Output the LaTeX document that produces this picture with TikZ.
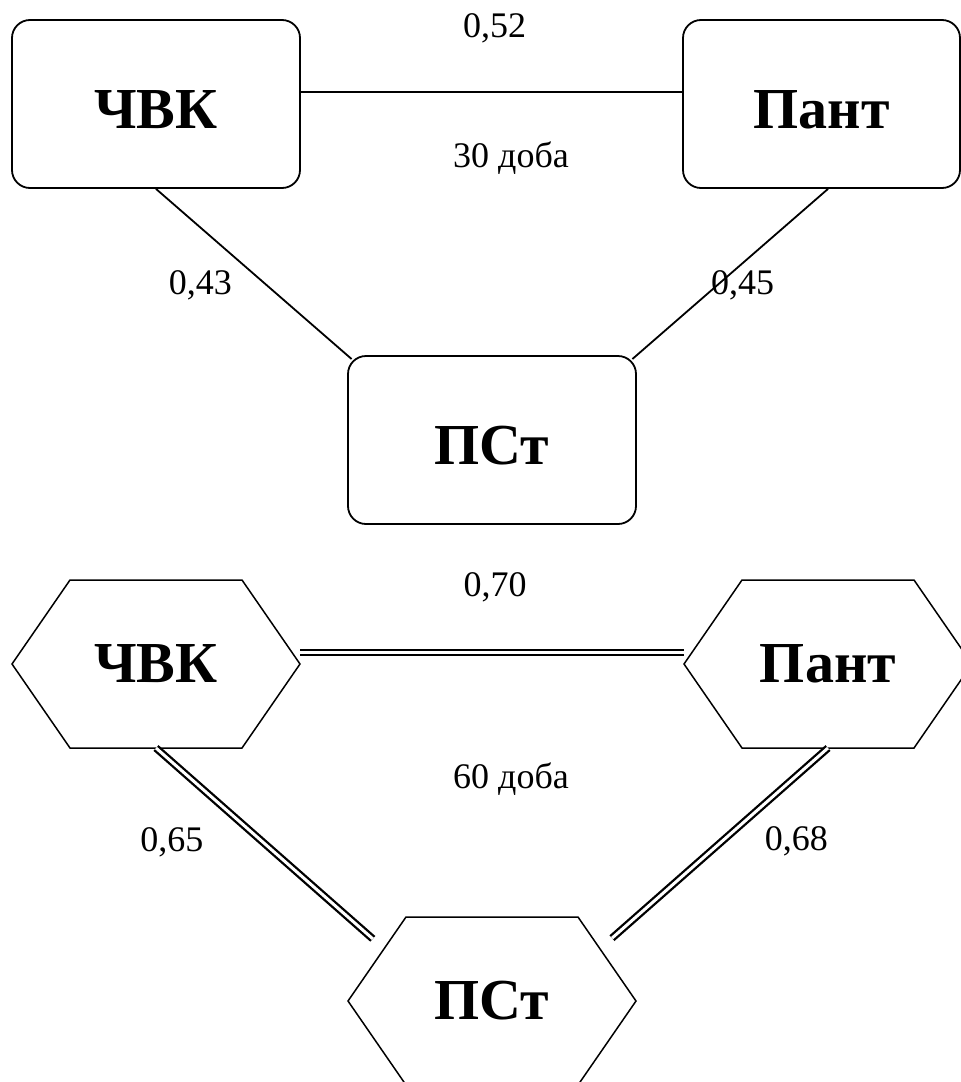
\documentclass[tikz,border=0pt]{standalone}
\usepackage{fontspec}
\setmainfont{Liberation Serif}
\usetikzlibrary{calc}
\tikzset{
  bx/.style={rectangle,draw,line width=1.8pt,rounded corners=18pt,minimum width=288pt,minimum height=168pt,inner sep=0pt,text height=49pt,font=\fontsize{58}{60}\selectfont\bfseries},
  hx/.style={rectangle,minimum width=288pt,minimum height=168pt,inner sep=0pt,outer sep=0pt,font=\fontsize{58}{60}\selectfont\bfseries},
  hxl/.style={line width=1.5pt,line join=miter},
  ln/.style={line width=1.8pt},
  dl/.style={double,line width=2.3pt,double distance=3pt},
  lb/.style={font=\fontsize{36}{40}\selectfont,inner sep=0pt}
}
\begin{document}
\begin{tikzpicture}[x=1pt,y=-1pt]
\useasboundingbox (0,0) rectangle (961,1082);
% 30 доба
\node[bx] (chvk1) at (156,104) {ЧВК};
\node[bx,minimum width=277pt] (pant1) at (821.5,104) {Пант};
\node[bx] (pst1) at (492,440) {ПСт};
\draw[ln] ([yshift=12pt]chvk1.east) -- ([yshift=12pt]pant1.west) node[lb,midway,xshift=3pt,yshift=64pt] {0,52};
\draw[ln,shorten >=-6pt] (chvk1.south) -- (pst1.north west) node[lb,pos=0.577,xshift=-66pt] {0,43};
\draw[ln,shorten >=-6pt] ([xshift=6.5pt]pant1.south) -- (pst1.north east) node[lb,pos=0.577,xshift=25pt] {0,45};
\node[lb] (t30) at (511,158) {30 доба};
% 60 доба
\node[hx] (chvk2) at (156,664) {ЧВК};
\node[hx] (pant2) at (828,664) {Пант};
\node[hx] (pst2) at (492,1001) {ПСт};
\foreach \n in {chvk2,pant2,pst2}
  \draw[hxl] ([xshift=58pt]\n.north west) -- ([xshift=-58pt]\n.north east) -- (\n.east)
    -- ([xshift=-58pt]\n.south east) -- ([xshift=58pt]\n.south west) -- (\n.west) -- cycle;
\draw[dl] ([yshift=11.5pt]chvk2.east) -- ([yshift=11.5pt]pant2.west) node[lb,midway,xshift=3pt,yshift=65pt] {0,70};
\draw[dl,shorten >=-33pt] (chvk2.south) -- (pst2.north west) node[lb,pos=0.556,xshift=-91pt] {0,65};
\draw[dl,shorten >=-32pt] (pant2.south) -- (pst2.north east) node[lb,pos=0.55,xshift=74pt] {0,68};
\node[lb] (t60) at (511,779) {60 доба};
\end{tikzpicture}
\end{document}
